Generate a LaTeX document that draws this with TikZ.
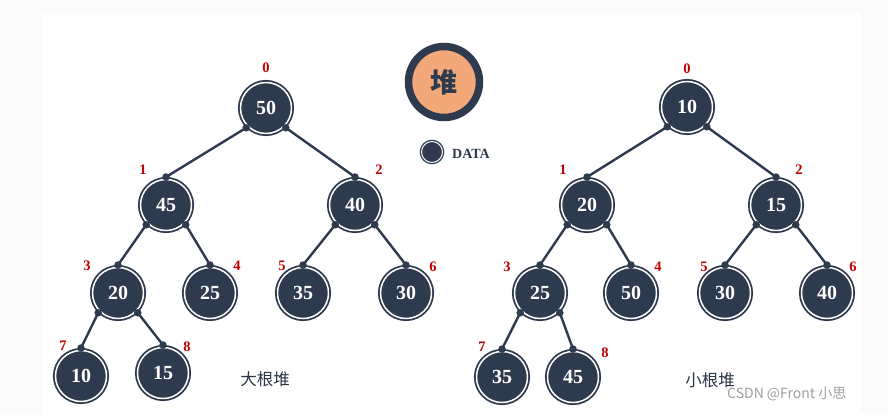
\documentclass[tikz,border=0pt]{standalone}
\usepackage{fontspec}
\setmainfont{Liberation Serif}
\newfontfamily\cjk{Noto Sans CJK SC}
\newfontfamily\cjkb{Noto Sans CJK SC Black}
\usetikzlibrary{calc}
\definecolor{navy}{HTML}{2E3A4D}
\definecolor{idxred}{HTML}{C00000}
\definecolor{heapfill}{HTML}{F2A878}
\tikzset{
  hn/.style={circle, fill=navy, draw=navy, double=white, double distance=1.5pt,
    line width=1.8pt, minimum size=51pt, inner sep=0pt, outer sep=2.5pt,
    text=white, font=\fontsize{20}{20}\selectfont\bfseries},
  idx/.style={text=idxred, font=\fontsize{14.5}{14.5}\selectfont\bfseries, inner sep=0pt},
  treeline/.style={draw=navy, line width=2.4pt},
  joint/.style={circle, fill=navy, minimum size=7.5pt, inner sep=0pt},
  captxt/.style={font=\cjk\fontsize{16.5}{16.5}\selectfont, text=navy!90!black, inner sep=0pt}
}
\newcommand{\hedge}[3]{%
  \draw[treeline] (#1.#2) -- (#3.north);
  \node[joint] at (#1.#2) {};
  \node[joint] at (#3.north) {};
}
\begin{document}
\begin{tikzpicture}[x=1pt,y=-1pt]
\useasboundingbox (0,0) rectangle (888,413);
\fill[gray!3] (0,0) rectangle (888,413);
\fill[white] (42,13) rectangle (861,413);

% heap badge
\node[circle, fill=heapfill, draw=navy, line width=7.5pt, minimum size=71pt, inner sep=0pt,
  font=\cjkb\fontsize{27}{27}\selectfont, text=navy] (heap) at (444,82) {堆};
% legend
\node[circle, fill=navy, draw=navy, double=white, double distance=1pt, line width=1.3pt,
  minimum size=21pt, inner sep=0pt] (leg) at (432,152) {};
\node[anchor=west, inner sep=0pt, font=\fontsize{14}{14}\selectfont\bfseries, text=navy]
  (legt) at (452,154) {DATA};

% left tree (max heap)
\node[hn] (a0) at (266,108) {50};
\node[hn] (a1) at (166,205) {45};
\node[hn] (a2) at (355,205) {40};
\node[hn] (a3) at (118,293) {20};
\node[hn] (a4) at (210,293) {25};
\node[hn] (a5) at (303,293) {35};
\node[hn] (a6) at (406,293) {30};
\node[hn] (a7) at (81,376) {10};
\node[hn] (a8) at (163,373) {15};
\hedge{a0}{-135}{a1}
\hedge{a0}{-45}{a2}
\hedge{a1}{-135}{a3}
\hedge{a1}{-45}{a4}
\hedge{a2}{-135}{a5}
\hedge{a2}{-45}{a6}
\hedge{a3}{-135}{a7}
\hedge{a3}{-45}{a8}
\node[idx] (ai0) at (266,68) {0};
\node[idx] (ai1) at (143,170) {1};
\node[idx] (ai2) at (379,170) {2};
\node[idx] (ai3) at (87,266) {3};
\node[idx] (ai4) at (237,266) {4};
\node[idx] (ai5) at (282,266) {5};
\node[idx] (ai6) at (433,267) {6};
\node[idx] (ai7) at (63,346) {7};
\node[idx] (ai8) at (187,347) {8};
\node[captxt] (acap) at (265,379) {大根堆};

% right tree (min heap)
\node[hn] (b0) at (687,107) {10};
\node[hn] (b1) at (587,205) {20};
\node[hn] (b2) at (776,205) {15};
\node[hn] (b3) at (540,293) {25};
\node[hn] (b4) at (631,293) {50};
\node[hn] (b5) at (725,293) {30};
\node[hn] (b6) at (827,293) {40};
\node[hn] (b7) at (502,377) {35};
\node[hn] (b8) at (573,377) {45};
\hedge{b0}{-135}{b1}
\hedge{b0}{-45}{b2}
\hedge{b1}{-135}{b3}
\hedge{b1}{-45}{b4}
\hedge{b2}{-135}{b5}
\hedge{b2}{-45}{b6}
\hedge{b3}{-135}{b7}
\hedge{b3}{-45}{b8}
\node[idx] (bi0) at (687,69) {0};
\node[idx] (bi1) at (563,170) {1};
\node[idx] (bi2) at (799,170) {2};
\node[idx] (bi3) at (507,267) {3};
\node[idx] (bi4) at (658,267) {4};
\node[idx] (bi5) at (704,267) {5};
\node[idx] (bi6) at (853,267) {6};
\node[idx] (bi7) at (482,347) {7};
\node[idx] (bi8) at (605,353) {8};
\node[captxt] (bcap) at (710,380) {小根堆};

% watermark
\node[font=\cjk\fontsize{14}{14}\selectfont, text=gray!75, inner sep=0pt, anchor=west]
  (wm) at (727,394) {CSDN @Front 小思};
\end{tikzpicture}
\end{document}
